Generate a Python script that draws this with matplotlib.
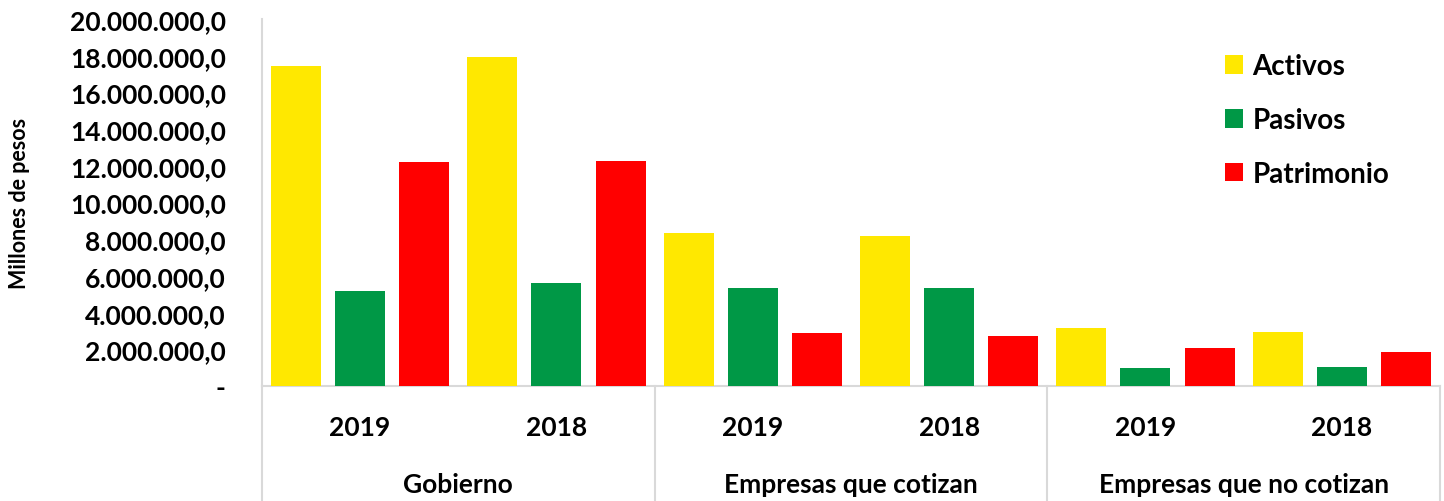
import numpy as np
import matplotlib
matplotlib.use("Agg")
import matplotlib.pyplot as plt
from matplotlib.ticker import FuncFormatter, MultipleLocator

# data (millones de pesos)
SECTORS = ["Gobierno", "Empresas que cotizan", "Empresas que no cotizan"]
YEARS = ["2019", "2018"]
SERIES = ["Activos", "Pasivos", "Patrimonio"]
activos = [17440000, 17930000, 8340000, 8170000, 3180000, 2960000]
pasivos = [5180000, 5600000, 5340000, 5320000, 980000, 1020000]
patrimonio = [12200000, 12250000, 2890000, 2720000, 2090000, 1870000]

COLORS = ["#FFE800", "#009846", "#FF0000"]
GRID = "#D9D9D9"

plt.rcParams["font.family"] = ["Lato", "DejaVu Sans"]
plt.rcParams["font.weight"] = "bold"

fig = plt.figure(figsize=(14.44, 5.02), dpi=100)
ax = fig.add_axes([0.1814, 0.229, 0.8158, 0.731])

x = np.arange(len(activos)) + 0.5
width = 0.255
step = 0.327
for i, (vals, name) in enumerate(zip([activos, pasivos, patrimonio], SERIES)):
    ax.bar(x + (i - 1) * step, vals, width, color=COLORS[i], label=name, zorder=3)

ax.set_xlim(0, 6)
ax.set_ylim(0, 20000000)
ax.yaxis.set_major_locator(MultipleLocator(2000000))


def fmt(v, pos):
    if v == 0:
        return "-"
    return "{:,.1f}".format(v).replace(",", "X").replace(".", ",").replace("X", ".")


ax.yaxis.set_major_formatter(FuncFormatter(fmt))
ax.tick_params(axis="y", length=0, labelsize=19, pad=26)
ax.tick_params(axis="x", length=0, labelbottom=False)

for lab in ax.get_yticklabels():
    lab.set_fontweight("bold")

ax.set_xticks(np.arange(0, 7), minor=True)
ax.grid(True, axis="x", which="minor", color=GRID, linewidth=1.5, zorder=0)

for s in ["top", "right"]:
    ax.spines[s].set_visible(False)
for s in ["left", "bottom"]:
    ax.spines[s].set_color(GRID)
    ax.spines[s].set_linewidth(1.5)

# two-level category axis
tr = ax.get_xaxis_transform()
for xb in [0, 2, 4, 6]:
    ax.plot([xb, xb], [0, -0.32], color=GRID, linewidth=1.5, transform=tr, clip_on=False)
for i, xc in enumerate(x):
    ax.text(xc, -0.112, YEARS[i % 2], transform=tr, ha="center", va="center",
            fontsize=19, fontweight="bold")
for j, name in enumerate(SECTORS):
    ax.text(2 * j + 1, -0.268, name, transform=tr, ha="center", va="center",
            fontsize=19, fontweight="bold")

ax.set_ylabel("Millones de pesos", fontsize=15.5, fontweight="bold")
ax.yaxis.set_label_coords(-0.197, 0.5)

leg = ax.legend(loc="upper right", bbox_to_anchor=(0.978, 0.975), frameon=False,
                fontsize=20, handlelength=0.65, handleheight=0.65, labelspacing=1.0,
                handletextpad=0.35)
for t in leg.get_texts():
    t.set_fontweight("bold")

fig.savefig("out.png", dpi=100)
